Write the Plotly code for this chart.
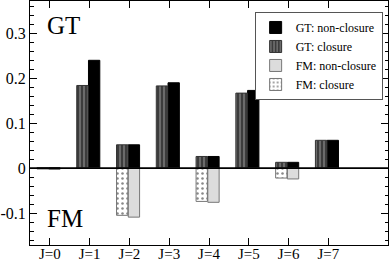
import plotly.graph_objects as go

J = [0, 1, 2, 3, 4, 5, 6, 7]
x_labels = ["J=0", "J=1", "J=2", "J=3", "J=4", "J=5", "J=6", "J=7"]
gt_nonclosure = [0.001, 0.240, 0.052, 0.190, 0.026, 0.173, 0.013, 0.062]
gt_closure = [0.001, 0.184, 0.052, 0.183, 0.026, 0.167, 0.013, 0.062]
fm_nonclosure = [-0.003, 0.0, -0.109, 0.0, -0.076, 0.0, -0.024, 0.0]
fm_closure = [-0.002, 0.0, -0.105, 0.0, -0.074, 0.0, -0.022, 0.0]
y_tickvals = [-0.1, 0, 0.1, 0.2, 0.3]
y_ticktext = ["-0.1", "0", "0.1", "0.2", "0.3"]

FONT = "Liberation Serif"
W_BAR = 0.285
OFF_C = -0.325
OFF_N = -0.03

fig = go.Figure()

fig.add_trace(go.Bar(
    x=J, y=gt_nonclosure, name="GT: non-closure",
    width=W_BAR, offset=OFF_N,
    marker=dict(color="black", line=dict(color="black", width=1)),
    legendrank=1,
))
fig.add_trace(go.Bar(
    x=J, y=gt_closure, name="GT: closure",
    width=W_BAR, offset=OFF_C,
    marker=dict(color="#3c3c3c", line=dict(color="#333333", width=1),
                pattern=dict(shape="|", fgcolor="#9a9a9a", bgcolor="#3c3c3c",
                             size=4, solidity=0.25, fillmode="replace")),
    legendrank=2,
))
fig.add_trace(go.Bar(
    x=J, y=fm_nonclosure, name="FM: non-closure",
    width=W_BAR, offset=OFF_N,
    marker=dict(color="#dcdcdc", line=dict(color="#777777", width=1)),
    legendrank=3,
))
fig.add_trace(go.Bar(
    x=J, y=fm_closure, name="FM: closure",
    width=W_BAR, offset=OFF_C,
    marker=dict(color="white", line=dict(color="#777777", width=1),
                pattern=dict(shape=".", fgcolor="#888888", bgcolor="white",
                             size=5, solidity=0.2, fillmode="replace")),
    legendrank=4,
))

fig.add_shape(type="line", xref="paper", yref="y", x0=0, x1=1, y0=0, y1=0,
              line=dict(color="black", width=1.6), layer="above")

fig.add_annotation(text="GT", xref="paper", yref="paper", x=0.043, y=0.965,
                   xanchor="left", yanchor="top", showarrow=False,
                   font=dict(family=FONT, size=25, color="black"))
fig.add_annotation(text="FM", xref="paper", yref="paper", x=0.043, y=0.045,
                   xanchor="left", yanchor="bottom", showarrow=False,
                   font=dict(family=FONT, size=25, color="black"))

fig.update_layout(
    template="none",
    width=390, height=262,
    margin=dict(l=30, r=2, t=1, b=17, autoexpand=False),
    barmode="overlay",
    plot_bgcolor="white", paper_bgcolor="white",
    font=dict(family=FONT, size=16, color="black"),
    showlegend=True,
    legend=dict(
        x=0.985, y=0.955, xanchor="right", yanchor="top",
        bgcolor="white", bordercolor="#555555", borderwidth=1,
        font=dict(family=FONT, size=12, color="black"),
        tracegroupgap=0,
    ),
)

fig.update_xaxes(
    range=[-0.5, 8.5], automargin=False,
    tickmode="array", tickvals=J, ticktext=x_labels,
    ticks="inside", ticklen=7, tickcolor="black", tickwidth=1,
    showline=True, linecolor="black", linewidth=1, mirror="ticks",
    showgrid=False, zeroline=False, ticklabelstandoff=-5,
    tickfont=dict(family=FONT, size=15, color="black"),
)
fig.update_yaxes(
    range=[-0.171, 0.372], automargin=False,
    tickmode="array", tickvals=y_tickvals, ticktext=y_ticktext,
    ticks="inside", ticklen=7, tickcolor="black", tickwidth=1,
    minor=dict(dtick=0.02, tick0=0, ticks="inside", ticklen=3.5,
               tickcolor="black", showgrid=False),
    showline=True, linecolor="black", linewidth=1, mirror="ticks",
    showgrid=False, zeroline=False,
    tickfont=dict(family=FONT, size=16, color="black"),
)

fig.write_html("out.html", config={"displayModeBar": False},
               post_script="document.body.style.margin='0px';document.body.style.padding='0px';")
